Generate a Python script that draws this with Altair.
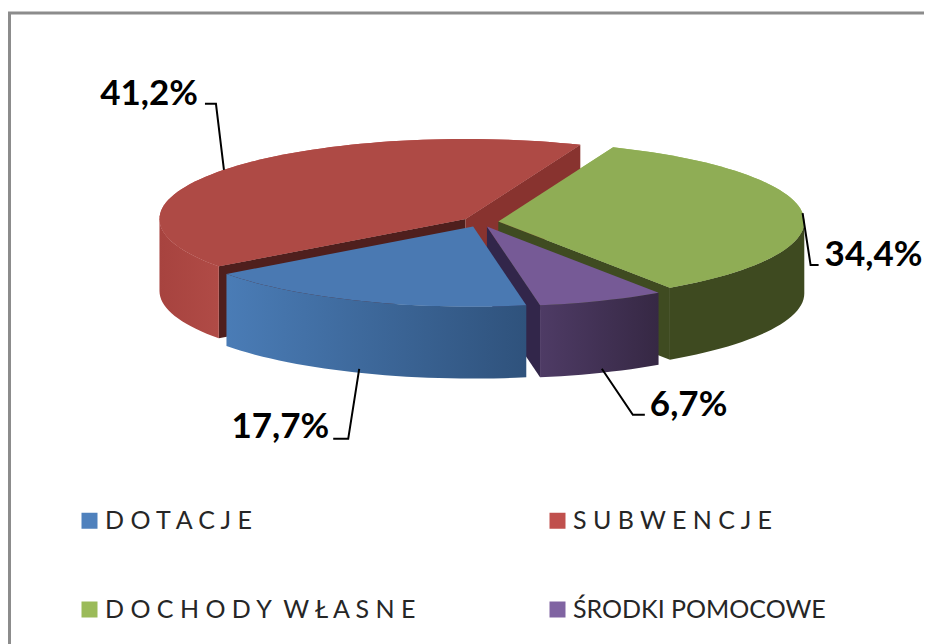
import math
import altair as alt

CATEGORIES = ["D O T A C J E", "S U B W E N C J E", "D O C H O D Y \u00a0W Ł A S N E", "ŚRODKI POMOCOWE"]
VALUES = [17.7, 41.2, 34.4, 6.7]
LEGEND_COLORS = ["#4f81bd", "#c0504d", "#9bbb59", "#8064a2"]
LEGEND_SORT = [CATEGORIES[0], CATEGORIES[2], CATEGORIES[1], CATEGORIES[3]]

# pie geometry (layout, not data); projection translate makes these page pixels
START = 170.0
CX, CY = 480.0, 222.0
RX, RY = 306.0, 80.0
DEPTH = 72.0
EXPLODE = 18.4

STYLE = {
    0: dict(top="#4a79b2", wall=("#4a7cb6", "#2f527c"), start_face=None, end_face=None),
    1: dict(top="#ae4a45", wall=("#a7433f", "#b04b46"), start_face="#4f1f1d", end_face="#88332f"),
    2: dict(top="#8fad55", wall=("#3e4a20", "#3e4a20"), start_face=None, end_face=None),
    3: dict(top="#765a96", wall=("#4e3b65", "#362844"), start_face=None, end_face=None),
}
DRAW_ORDER = [1, 2, 3, 0]
FACE_DARK = {2: "#3f4b21", 3: "#32264a"}

# leader elbows relative to the middle of each slice's rim: (elbow, end, text offset)
LEADERS = {
    0: ((-11, 70), (-26, 70), (-30, 69), "right"),
    1: ((-8, -66), (-19, -66), (-26, -65), "right"),
    2: ((8, 52), (16, 52), (22, 53), "left"),
    3: ((31, 46), (43, 46), (48, 47), "left"),
}


def slices():
    total = sum(VALUES)
    a = START
    out = []
    for v in VALUES:
        if a >= 360:
            a -= 360
        b = a + v / total * 360
        m = math.radians((a + b) / 2)
        out.append((a, b, CX + EXPLODE * math.sin(m), CY - EXPLODE * 0.268 * math.cos(m)))
        a = b
    return out


def pt(cx, cy, ang, drop=0.0):
    r = math.radians(ang)
    return [cx + RX * math.sin(r), cy - RY * math.cos(r) + drop]


def arc(cx, cy, a, b, drop=0.0):
    n = max(2, int(abs(b - a) / 2))
    return [pt(cx, cy, a + (b - a) * k / n, drop) for k in range(n + 1)]


def poly(ring, **props):
    ring = ring + [ring[0]]
    return {"type": "Feature", "properties": props, "geometry": {"type": "Polygon", "coordinates": [ring]}}


def line(points):
    return {"type": "Feature", "properties": {}, "geometry": {"type": "LineString", "coordinates": points}}


PROJ = dict(type="identity", scale=1, translate=[-8, -8])
S = slices()


def shape(features, **mark):
    return alt.Chart(alt.Data(values=features)).mark_geoshape(strokeWidth=0, **mark).project(**PROJ)


def grad(c0, c1):
    return alt.LinearGradient(
        gradient="linear", x1=0, y1=0, x2=1, y2=0,
        stops=[alt.GradientStop(color=c0, offset=0), alt.GradientStop(color=c1, offset=1)],
    )


def top_ring(i):
    a, b, cx, cy = S[i]
    return [[cx, cy]] + arc(cx, cy, a, b)


layers = []

# legend layer: tops in the legend colours, later covered by the shaded tops
legend = alt.Legend(
    orient="none", legendX=69, legendY=500, columns=2, columnPadding=124, rowPadding=63,
    title=None, symbolType="square", symbolSize=256, symbolStrokeWidth=0, symbolOpacity=1,
    labelFont="Lato", labelFontSize=25, labelColor="#262626", labelLimit=500, labelOffset=3,
)
layers.append(
    alt.Chart(alt.Data(values=[poly(top_ring(i), name=CATEGORIES[i]) for i in range(4)]))
    .mark_geoshape(strokeWidth=0)
    .encode(color=alt.Color("properties.name:N", sort=LEGEND_SORT,
                            scale=alt.Scale(domain=LEGEND_SORT,
                                            range=[LEGEND_COLORS[CATEGORIES.index(c)] for c in LEGEND_SORT]),
                            legend=legend))
    .project(**PROJ)
)

for i in DRAW_ORDER:
    a, b, cx, cy = S[i]
    st = STYLE[i]
    # radial faces that turn towards the viewer
    if math.cos(math.radians(a - 90)) < 0:
        c = st["start_face"] or FACE_DARK.get(i, st["top"])
        p = pt(cx, cy, a)
        layers.append(shape([poly([[cx, cy], p, [p[0], p[1] + DEPTH], [cx, cy + DEPTH]])], fill=c))
    if math.cos(math.radians(b + 90)) < 0:
        c = st["end_face"] or FACE_DARK.get(i, st["top"])
        p = pt(cx, cy, b)
        layers.append(shape([poly([[cx, cy], p, [p[0], p[1] + DEPTH], [cx, cy + DEPTH]])], fill=c))
    # outer wall
    lo, hi = max(a, 90), min(b, 270)
    if hi > lo:
        ring = arc(cx, cy, lo, hi) + arc(cx, cy, hi, lo, DEPTH)
        c0, c1 = st["wall"]
        layers.append(shape([poly(ring)], fill=grad(c0, c1)))
    layers.append(shape([poly(top_ring(i))], fill=st["top"]))

# leaders and percentage labels
for i, v in enumerate(VALUES):
    a, b, cx, cy = S[i]
    m = (a + b) / 2
    front = 90 < (m % 360) < 270
    p = pt(cx, cy, m, DEPTH - 4 if front else 0)
    el, en, tx, al = LEADERS[i]
    layers.append(
        alt.Chart(alt.Data(values=[line([p, [p[0] + el[0], p[1] + el[1]], [p[0] + en[0], p[1] + en[1]]])]))
        .mark_geoshape(filled=False, stroke="#000000", strokeWidth=2)
        .project(**PROJ)
    )
    layers.append(
        alt.Chart(alt.Data(values=[{"lon": p[0] + tx[0], "lat": p[1] + tx[1], "t": f"{v:.1f}%".replace(".", ",")}]))
        .mark_text(font="Lato", fontWeight="bold", fontSize=35, align=al, baseline="alphabetic", color="#000000")
        .encode(longitude="lon:Q", latitude="lat:Q", text="t:N")
        .project(**PROJ)
    )

# frame
layers.append(
    alt.Chart(alt.Data(values=[line([[9.5, 644], [9.5, 13], [932, 13]])]))
    .mark_geoshape(filled=False, stroke="#8c8c8c", strokeWidth=3)
    .project(**PROJ)
)

chart = (
    alt.layer(*layers)
    .properties(width=916, height=636, padding=0, background="#ffffff")
    .configure_view(stroke=None)
)
chart.save("out.html", embed_options={"renderer": "svg", "actions": False})
